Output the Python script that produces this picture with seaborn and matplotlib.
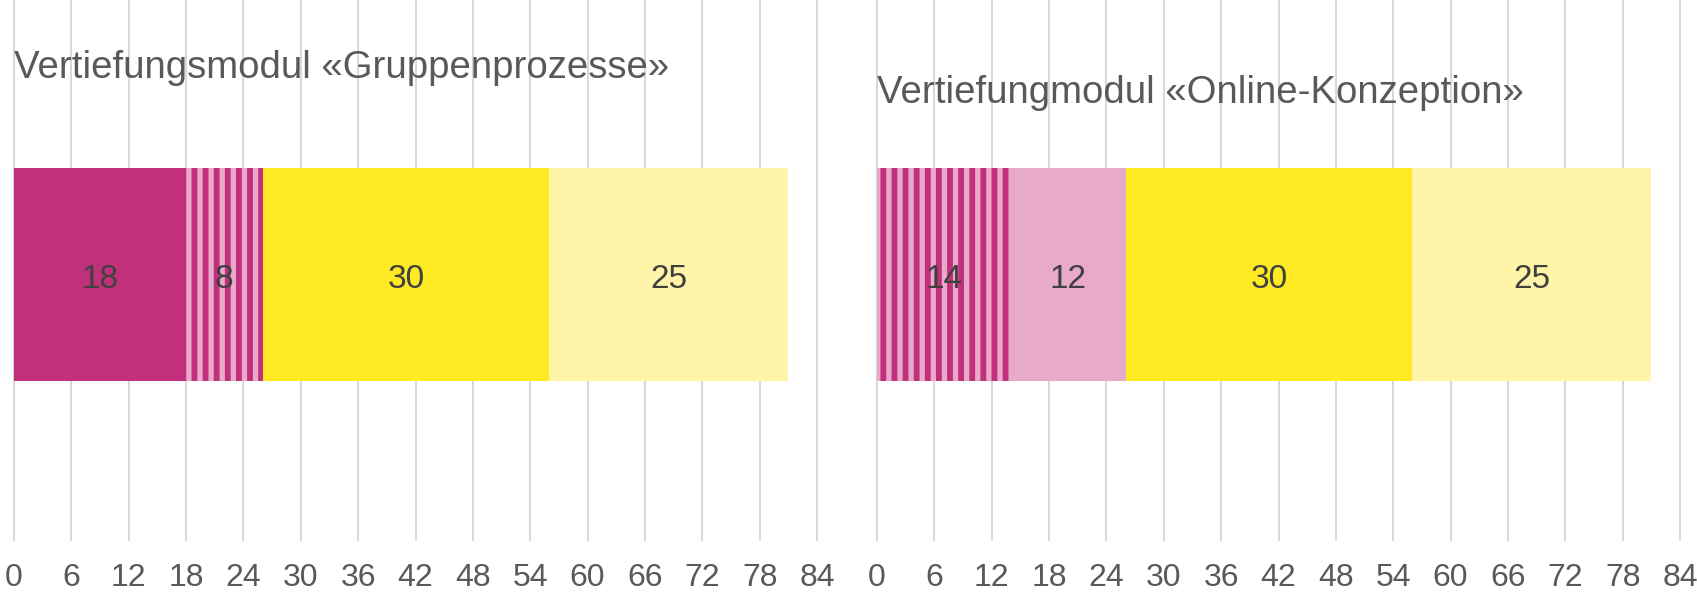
import numpy as np
import pandas as pd
import matplotlib
matplotlib.use("Agg")
import matplotlib.pyplot as plt
import seaborn as sns

# Daten
titel = ["Vertiefungsmodul «Gruppenprozesse»", "Vertiefungmodul «Online-Konzeption»"]
segmente = ["A", "B", "C", "D"]
werte_links = [18, 8, 30, 25]
werte_rechts = [14, 12, 30, 25]
xticks = list(range(0, 85, 6))

magenta = "#C1307B"
rosa = "#E9A9CB"
gelb = "#FEEA22"
hellgelb = "#FFF5A8"

# Farben / Schraffur pro Segment (links, rechts)
stil_links = [(magenta, None), (rosa, "|||"), (gelb, None), (hellgelb, None)]
stil_rechts = [(rosa, "|||"), (rosa, None), (gelb, None), (hellgelb, None)]

sns.set_theme(style="white")
plt.rcParams["font.family"] = ["Liberation Sans", "DejaVu Sans"]
plt.rcParams["hatch.linewidth"] = 2.1

W, H, DPI = 1697, 594, 200
fig = plt.figure(figsize=(W / DPI, H / DPI), dpi=DPI)

px = 803 / 84  # Pixel pro Einheit
AX_PX = 541
ax_bottom = 1 - AX_PX / H
ax_h = AX_PX / H
positionen = [(14 - px) / W, (877 - px) / W]
ax_w = (803 + 2 * px) / W
title_y = [68, 93]


def panel(ax, werte, stile, titel_text, ty):
    df = pd.DataFrame({"seg": segmente, "wert": werte, "gruppe": ["g"] * 4})
    df["kum"] = df["wert"].cumsum()
    # von hinten nach vorne zeichnen, damit die Segmente gestapelt wirken
    for i in reversed(range(len(df))):
        farbe, hatch = stile[i]
        sub = df.iloc[[i]]
        kw = dict(linewidth=0)
        if hatch:
            kw.update(hatch=hatch, edgecolor=magenta)
        sns.barplot(data=sub, x="kum", y="gruppe", color=farbe, saturation=1,
                    width=0.8, ax=ax, **kw)
    unit = 213 / 0.8
    for _, r in df.iterrows():
        ax.text(r["kum"] - r["wert"] / 2, 4.5 / unit, str(r["wert"]), ha="center",
                va="center", fontsize=12, color="#404040")
    ax.set_xlim(-1, 85)
    top = -0.4 - 168 / unit
    ax.set_ylim(top + AX_PX / unit, top)
    ax.set_xticks(xticks)
    ax.set_xticklabels([str(t) for t in xticks], fontsize=11.5, color="#595959")
    ax.set_yticks([])
    ax.set_xlabel("")
    ax.set_ylabel("")
    ax.tick_params(axis="x", length=0, pad=7.8)
    ax.grid(axis="x", color="#D9D9D9", linewidth=0.75)
    ax.set_axisbelow(True)
    for s in ax.spines.values():
        s.set_visible(False)
    ax.text(0, top + ty / unit, titel_text, ha="left", va="center",
            fontsize=13.8, color="#595959")


for k, (werte, stile) in enumerate([(werte_links, stil_links), (werte_rechts, stil_rechts)]):
    ax = fig.add_axes([positionen[k], ax_bottom, ax_w, ax_h])
    panel(ax, werte, stile, titel[k], title_y[k])

fig.savefig("out.png", dpi=DPI)
